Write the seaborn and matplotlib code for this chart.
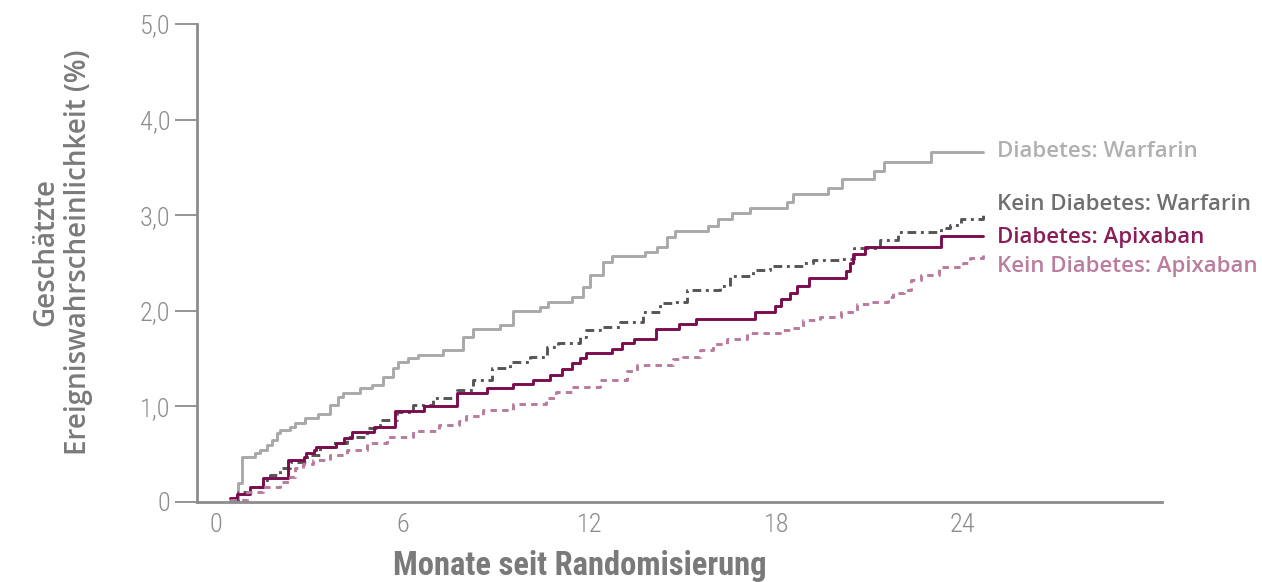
import matplotlib
matplotlib.use("Agg")
import matplotlib.pyplot as plt
from matplotlib import font_manager
import seaborn as sns
import pandas as pd

# Kaplan-Meier style step curves (months, estimated event probability in %)
dw_t = [0.45, 0.7, 0.84, 1.25, 1.41, 1.64, 1.8, 1.97, 2.06, 2.38, 2.54, 2.86, 3.28, 3.67, 3.92,
        4.08, 4.63, 5.02, 5.37, 5.69, 5.85, 6.17, 6.5, 7.3, 7.94, 8.26, 9.13, 9.55, 10.42, 10.68,
        11.45, 11.8, 12.03, 12.44, 12.73, 13.79, 14.18, 14.5, 14.76, 15.82, 16.14, 16.59, 17.17,
        18.36, 18.55, 19.65, 20.13, 21.13, 21.45, 22.99, 24.66]
dw_v = [0.02, 0.2, 0.47, 0.51, 0.54, 0.6, 0.65, 0.72, 0.75, 0.78, 0.83, 0.88, 0.92, 1.01, 1.10,
        1.14, 1.19, 1.22, 1.31, 1.40, 1.46, 1.51, 1.54, 1.59, 1.73, 1.81, 1.85, 2.00, 2.04, 2.09,
        2.14, 2.25, 2.37, 2.51, 2.57, 2.62, 2.67, 2.77, 2.83, 2.89, 2.96, 3.02, 3.08,
        3.14, 3.22, 3.28, 3.38, 3.46, 3.56, 3.66, 3.66]

kw_t = [0.45, 0.7, 1.16, 1.51, 1.74, 2.06, 2.38, 2.93, 3.34, 3.76, 4.21, 4.85, 5.27, 5.82, 6.33,
        6.97, 7.75, 8.26, 8.87, 9.45, 10.1, 10.64, 11.0, 11.7, 11.9, 12.35, 12.99, 13.73, 14.27,
        14.76, 15.14, 16.2, 16.53, 17.27, 17.81, 18.87, 19.2, 20.07, 20.49, 21.35, 21.9, 23.29,
        23.6, 23.93, 24.66]
kw_v = [0.02, 0.1, 0.16, 0.23, 0.28, 0.36, 0.42, 0.49, 0.58, 0.62, 0.68, 0.77, 0.86, 0.94, 1.01,
        1.09, 1.17, 1.28, 1.40, 1.46, 1.52, 1.62, 1.66, 1.73, 1.80, 1.83, 1.88, 1.99, 2.08,
        2.09, 2.22, 2.26, 2.36, 2.43, 2.47, 2.50, 2.53, 2.54, 2.66, 2.74, 2.82, 2.87,
        2.90, 2.96, 3.00]

da_t = [0.45, 0.68, 1.09, 1.51, 2.3, 2.84, 2.9, 3.15, 3.22, 3.86, 4.12, 4.37, 5.08, 5.75, 6.69,
        7.75, 8.71, 9.55, 10.19, 10.74, 11.13, 11.45, 11.7, 11.9, 12.73, 13.05, 13.44, 14.15,
        14.89, 15.43, 17.33, 17.97, 18.17, 18.46, 18.68, 19.07, 20.26, 20.36, 20.48, 20.84,
        23.3, 24.66]
da_v = [0.04, 0.08, 0.16, 0.25, 0.44, 0.47, 0.51, 0.54, 0.58, 0.62, 0.67, 0.73, 0.78, 0.95, 1.00,
        1.14, 1.19, 1.23, 1.28, 1.33, 1.39, 1.45, 1.51, 1.56, 1.60, 1.66, 1.70, 1.81,
        1.86, 1.91, 1.99, 2.05, 2.12, 2.19, 2.26, 2.34, 2.42, 2.50, 2.59, 2.67,
        2.78, 2.78]

ka_t = [0.45, 1.0, 1.51, 2.06, 2.38, 2.54, 2.8, 3.13, 3.67, 4.21, 4.85, 5.5, 6.33, 7.17, 7.81,
        8.04, 8.58, 9.55, 10.6, 10.93, 11.45, 12.35, 13.22, 13.54, 14.7, 15.02, 15.56, 15.98,
        16.43, 17.07, 18.13, 18.46, 18.87, 19.42, 20.07, 20.61, 21.03, 21.59, 21.77, 22.1,
        22.32, 22.64, 23.22, 24.0, 24.24, 24.66]
ka_v = [0.02, 0.1, 0.16, 0.21, 0.26, 0.36, 0.40, 0.44, 0.49, 0.54, 0.62, 0.68, 0.74, 0.80, 0.85,
        0.90, 0.96, 1.02, 1.09, 1.15, 1.20, 1.28, 1.37, 1.43, 1.50, 1.52, 1.59, 1.65,
        1.71, 1.77, 1.80, 1.82, 1.90, 1.94, 1.99, 2.07, 2.09, 2.14, 2.19, 2.22,
        2.32, 2.37, 2.46, 2.50, 2.55, 2.58]

labels = ["Diabetes: Warfarin", "Kein Diabetes: Warfarin", "Diabetes: Apixaban", "Kein Diabetes: Apixaban"]
line_colors = ["#a9a9a9", "#555555", "#7b0c4d", "#b97a9d"]
text_colors = ["#b0b0b0", "#6f6f6f", "#8a1d58", "#bb7d9e"]
label_y = [3.67, 3.11, 2.77, 2.46]

sns.set_theme(style="white")
plt.rcParams["font.family"] = ["Open Sans", "DejaVu Sans"]

installed = {f.name for f in font_manager.fontManager.ttflist}
has_cond = "Roboto Condensed" in installed
narrow = ["Roboto Condensed", "Roboto", "DejaVu Sans"] if has_cond else ["Roboto", "DejaVu Sans"]

fig = plt.figure(figsize=(12.62, 5.82), dpi=100)
ax = fig.add_axes([0.1561, 0.1375, 0.7647, 0.8213])

series = [(dw_t, dw_v), (kw_t, kw_v), (da_t, da_v), (ka_t, ka_v)]
dash_styles = ["-", (0, (3.0, 1.6, 1.0, 1.6)), "-", (0, (2.2, 1.8))]
for (t, v), lab, col, ls in zip(series, labels, line_colors, dash_styles):
    df = pd.DataFrame({"t": t, "v": v})
    sns.lineplot(data=df, x="t", y="v", ax=ax, color=col, linewidth=2.1,
                 drawstyle="steps-post", linestyle=ls, estimator=None, sort=False)

for lab, tc, ly in zip(labels, text_colors, label_y):
    ax.text(25.1, ly, lab, color=tc, fontsize=16, fontweight="semibold",
            va="center", ha="left", clip_on=False)

ax.set_xlim(-0.61, 30.4)
ax.set_ylim(0, 5.0)
ax.set_xticks([0, 6, 12, 18, 24])
ax.set_yticks([0, 1, 2, 3, 4, 5])
ax.set_yticklabels(["0", "1,0", "2,0", "3,0", "4,0", "5,0"])

for lbl in ax.get_xticklabels() + ax.get_yticklabels():
    lbl.set_family(narrow)
    lbl.set_fontsize(19 if has_cond else 17)
    lbl.set_fontweight("light")
    lbl.set_color("#8c8c8c")

ax.tick_params(axis="x", length=0, pad=8)
ax.tick_params(axis="y", length=16, width=1.3, color="#8c8c8c", pad=3, left=True)

for side in ["top", "right"]:
    ax.spines[side].set_visible(False)
for side in ["left", "bottom"]:
    ax.spines[side].set_color("#8c8c8c")
    ax.spines[side].set_linewidth(2)

ax.set_xlabel("Monate seit Randomisierung", family=narrow, fontsize=23.5 if has_cond else 19,
              fontweight="bold", color="#7a7a7a")
ax.xaxis.set_label_coords(0.397, -0.1)
ax.set_ylabel("Geschätzte\nEreigniswahrscheinlichkeit (%)", fontsize=20,
              fontweight="semibold", color="#7a7a7a", linespacing=1.15)
ax.yaxis.set_label_coords(-0.108, 0.523)
ax.grid(False)

fig.savefig("out.png", dpi=100)
